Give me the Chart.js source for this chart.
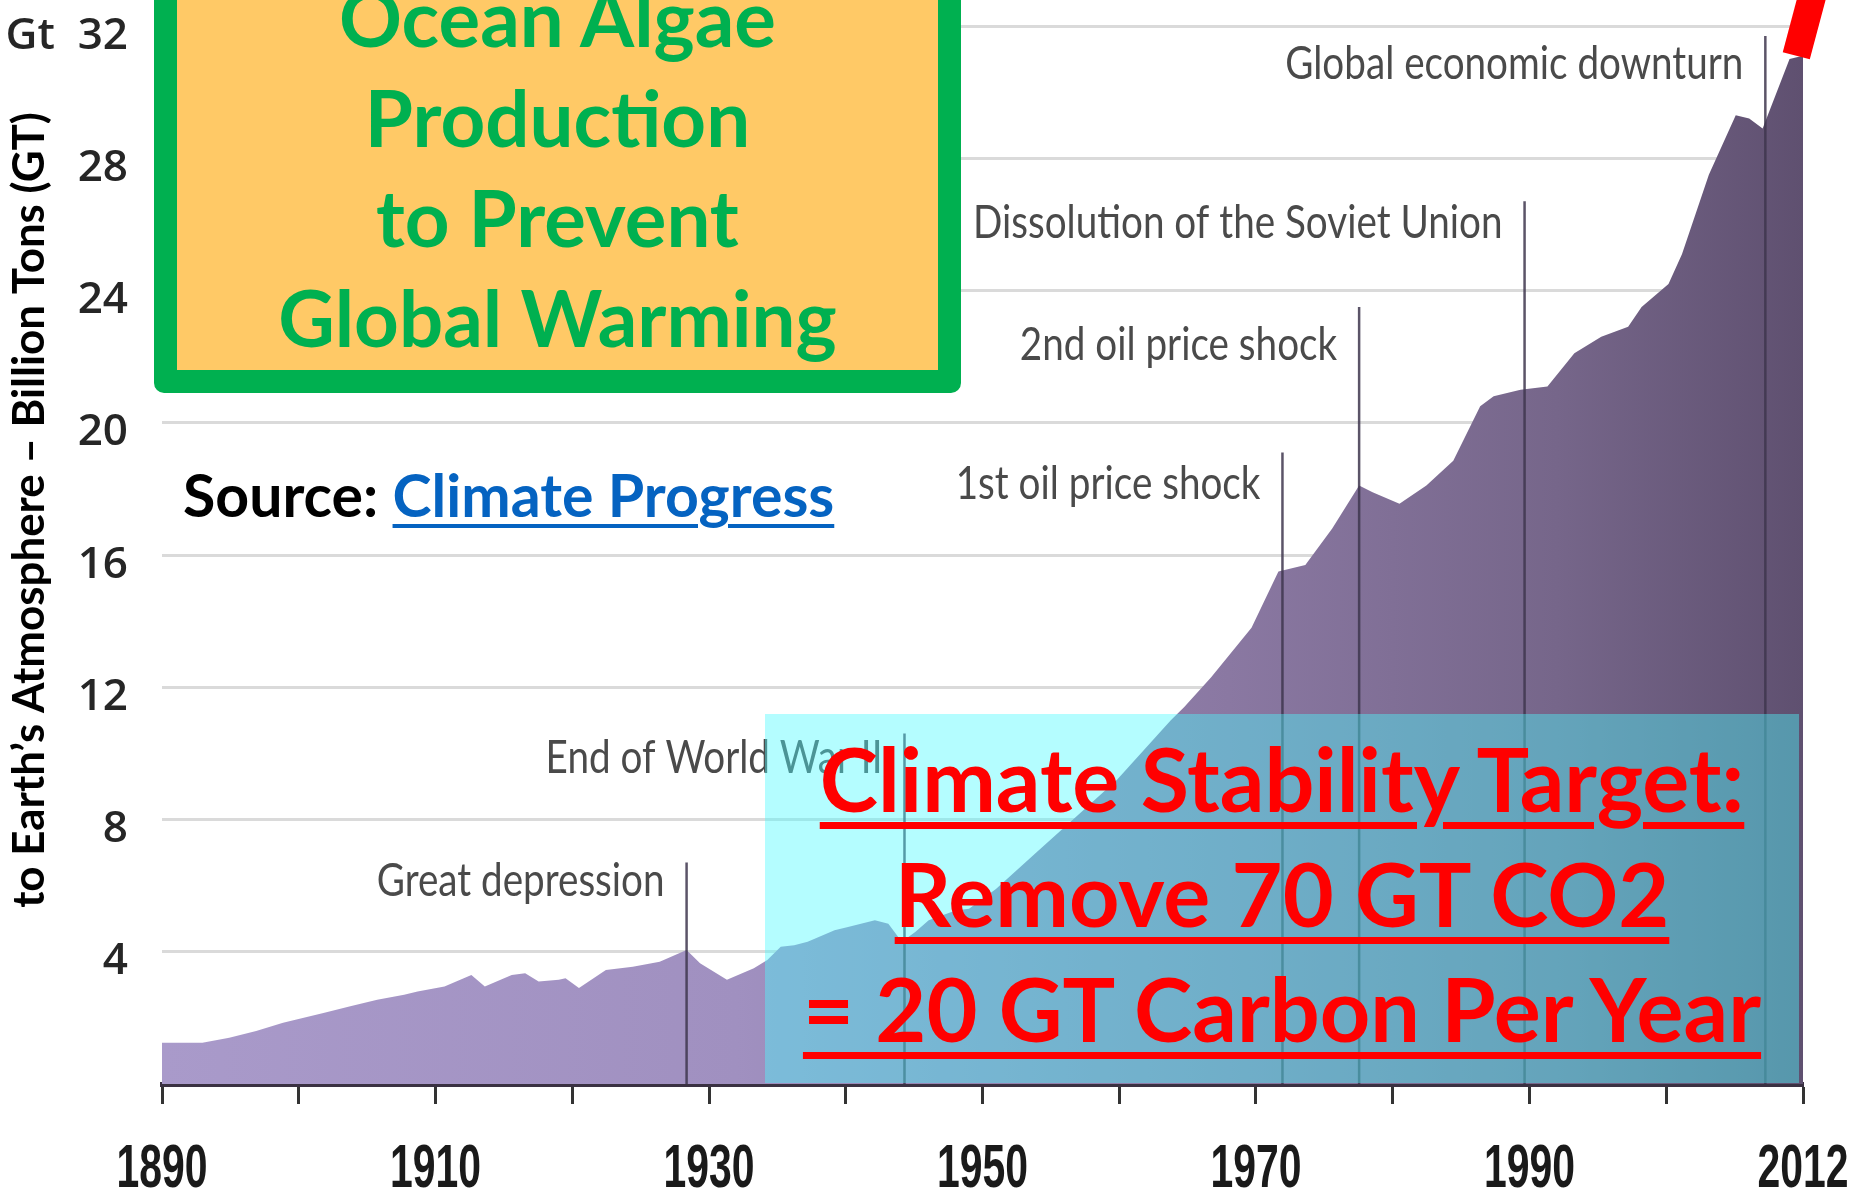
<!DOCTYPE html>
<html lang="en">
<head>
<meta charset="UTF-8">
<title>CO2 emissions to Earth's atmosphere</title>
<script src="https://cdn.jsdelivr.net/npm/chart.js"></script>
<style>
  html, body { margin: 0; padding: 0; background: #fff; }
  body { width: 1855px; height: 1190px; position: relative; overflow: hidden; }
  #grafico { position: absolute; left: 0; top: 0; }
  .caixa-laranja { position: absolute; left: 154px; top: -60px; width: 807px; height: 453px;
    box-sizing: border-box; background: #ffc966; border: 23px solid #00b050; border-radius: 10px; }
  .titulo-laranja { position: absolute; left: 154px; top: -33px; width: 807px; text-align: center;
    font: bold 78px/100px Lato, sans-serif; color: #00b050; }
  .fonte { position: absolute; left: 183px; top: 460px; white-space: nowrap;
    font: bold 59px/70px Lato, sans-serif; color: #000; }
  .fonte a { color: #0563c1; text-decoration: underline; text-decoration-thickness: 4px; text-underline-offset: 7px; }
  .caixa-azul { position: absolute; left: 765px; top: 714px; width: 1034px; height: 369px;
    background: rgba(76, 250, 255, 0.42); }
  .meta { position: absolute; left: 765px; top: 721px; width: 1034px; text-align: center;
    font: bold 88px/115px Lato, sans-serif; color: #ff0000; white-space: nowrap; }
  .meta span { text-decoration: underline; text-decoration-thickness: 7px; text-underline-offset: 10px; }
</style>
</head>
<body>
  <canvas id="grafico" width="1855" height="1190"></canvas>

  <div class="caixa-laranja"></div>
  <div class="titulo-laranja">Ocean Algae<br>Production<br>to Prevent<br>Global Warming</div>

  <div class="fonte">Source: <a href="#">Climate Progress</a></div>

  <div class="caixa-azul"></div>
  <div class="meta">
    <div><span>Climate Stability Target:</span></div>
    <div><span>Remove 70 GT CO2</span></div>
    <div><span>= 20 GT Carbon Per Year</span></div>
  </div>

<script>
// emissions (Gt per year)
const anos = [1890, 1893, 1895, 1897, 1899, 1900, 1902, 1904, 1906, 1908, 1909, 1911, 1913, 1914,
  1916, 1917, 1918, 1919.5, 1920, 1921, 1923, 1925, 1927, 1929, 1930, 1932, 1934, 1935, 1936, 1937,
  1938, 1940, 1941, 1943, 1944, 1945, 1946, 1947, 1949, 1950, 1952, 1955, 1958, 1961, 1963, 1965,
  1966, 1968, 1971, 1973, 1975, 1977, 1979, 1980, 1982, 1984, 1986, 1988, 1989, 1991, 1993, 1995,
  1997, 1999, 2000, 2002, 2003, 2004, 2005, 2007, 2008, 2009, 2011, 2012];
const emissoes = [1.25, 1.25, 1.4, 1.6, 1.85, 1.95, 2.15, 2.35, 2.55, 2.7, 2.8, 2.95, 3.3, 2.95,
  3.3, 3.35, 3.1, 3.15, 3.2, 2.9, 3.45, 3.55, 3.7, 4.05, 3.65, 3.15, 3.5, 3.75, 4.15, 4.2,
  4.3, 4.65, 4.75, 4.95, 4.85, 4.3, 4.6, 4.95, 5.25, 5.3, 5.9, 7.0, 8.1, 9.2, 10.1, 11.0,
  11.4, 12.3, 13.8, 15.5, 15.7, 16.8, 18.1, 17.9, 17.55, 18.1, 18.85, 20.5, 20.8, 21.0, 21.1, 22.1,
  22.6, 22.9, 23.5, 24.2, 25.1, 26.3, 27.5, 29.3, 29.2, 28.9, 31.0, 31.1];

const yTicks = [0, 4, 8, 12, 16, 20, 24, 28, 32];
const xTickLabels = ['1890', '', '1910', '', '1930', '', '1950', '', '1970', '', '1990', '', '2012'];

const eventos = ['Great depression', 'End of World War II', '1st oil price shock',
  '2nd oil price shock', 'Dissolution of the Soviet Union', 'Global economic downturn'];
const eventosAno = [1929, 1945.2, 1973.3, 1979, 1991.3, 2009.2];
const eventosTopo = [6.7, 10.6, 19.1, 23.5, 26.7, 31.7];
const eventosTexto = [5.7, 9.4, 17.7, 21.9, 25.6, 30.4];

// red trend stroke past the last year
const tendencia = [[2011.5, 31.1], [2013.2, 33.7]];

function texto(ctx, s, x, y, font, cor, align, sx) {
  ctx.save();
  ctx.translate(x, y);
  ctx.scale(sx, 1);
  ctx.font = font;
  ctx.fillStyle = cor;
  ctx.textAlign = align;
  ctx.textBaseline = 'alphabetic';
  ctx.fillText(s, 0, 0);
  ctx.restore();
}

const extras = {
  id: 'extras',
  afterDatasetsDraw(chart) {
    const ctx = chart.ctx;
    const x = chart.scales.x, y = chart.scales.y;
    ctx.save();
    for (let i = 0; i < eventos.length; i++) {
      const px = x.getPixelForValue(eventosAno[i]);
      ctx.strokeStyle = 'rgba(62,54,78,0.85)';
      ctx.lineWidth = 2.5;
      ctx.beginPath();
      ctx.moveTo(px, y.getPixelForValue(0));
      ctx.lineTo(px, y.getPixelForValue(eventosTopo[i]));
      ctx.stroke();
      texto(ctx, eventos[i], px - 22, y.getPixelForValue(eventosTexto[i]), '46px Lato', '#4a4a4a', 'right', 0.84);
    }
    ctx.restore();
  },
  afterDraw(chart) {
    const ctx = chart.ctx;
    const x = chart.scales.x, y = chart.scales.y;

    // x labels, narrow like the original
    x.ticks.forEach(function (t, i) {
      if (!xTickLabels[i]) return;
      texto(ctx, xTickLabels[i], x.getPixelForTick(i), 1187, 'bold 62px "Liberation Sans"', '#1a1a1a', 'center', 0.66);
    });

    // y axis title
    ctx.save();
    ctx.translate(30, 510);
    ctx.rotate(-Math.PI / 2);
    ctx.scale(1.02, 1);
    ctx.font = 'bold 43px Lato';
    ctx.fillStyle = '#000';
    ctx.textAlign = 'center';
    ctx.textBaseline = 'middle';
    ctx.fillText('to Earth\u2019s Atmosphere \u2013 Billion Tons (GT)', 0, 0);
    ctx.restore();

    // trend slash
    ctx.save();
    ctx.strokeStyle = '#ff0000';
    ctx.lineWidth = 28;
    ctx.lineCap = 'butt';
    ctx.beginPath();
    ctx.moveTo(x.getPixelForValue(tendencia[0][0]), y.getPixelForValue(tendencia[0][1]));
    ctx.lineTo(x.getPixelForValue(tendencia[1][0]), y.getPixelForValue(tendencia[1][1]));
    ctx.stroke();
    ctx.restore();
  }
};

function preenchimento(context) {
  const area = context.chart.chartArea;
  if (!area) return '#9a8ab8';
  const g = context.chart.ctx.createLinearGradient(area.left, 0, area.right, 0);
  g.addColorStop(0, '#a99aca');
  g.addColorStop(0.35, '#a090c0');
  g.addColorStop(0.65, '#8a78a2');
  g.addColorStop(0.85, '#76668a');
  g.addColorStop(1, '#5f5070');
  return g;
}

const pontos = anos.map(function (a, i) { return { x: a, y: emissoes[i] }; });

new Chart(document.getElementById('grafico'), {
  type: 'line',
  data: {
    datasets: [{
      data: pontos,
      fill: 'origin',
      backgroundColor: preenchimento,
      borderWidth: 0,
      pointRadius: 0,
      tension: 0
    }]
  },
  options: {
    responsive: false,
    devicePixelRatio: 1,
    animation: false,
    layout: { padding: { left: 0, top: 26, right: 52, bottom: 0 } },
    plugins: { legend: { display: false }, tooltip: { enabled: false } },
    scales: {
      x: {
        type: 'linear',
        min: 1890,
        max: 2012,
        afterBuildTicks: function (scale) {
          const n = xTickLabels.length - 1;
          scale.ticks = xTickLabels.map(function (l, i) { return { value: 1890 + i * (2012 - 1890) / n }; });
        },
        ticks: { display: false },
        grid: { drawOnChartArea: false, drawTicks: true, tickLength: 20, tickColor: '#333', tickWidth: 3 },
        border: { color: '#3a3142', width: 5 },
        afterFit: function (scale) {
          scale.height = 106;
          scale.paddingLeft = 0;
          scale.paddingRight = 0;
        }
      },
      y: {
        min: 0,
        max: 32,
        afterBuildTicks: function (scale) {
          scale.ticks = yTicks.map(function (v) { return { value: v }; });
        },
        ticks: {
          padding: 34,
          labelOffset: 10,
          color: '#262626',
          font: { family: 'Open Sans', size: 44, weight: '600' },
          callback: function (v) {
            if (v === 0) return '';
            if (v === 32) return 'Gt  32';
            return v;
          }
        },
        grid: {
          drawTicks: false,
          lineWidth: 3,
          color: function (c) { return c.tick && c.tick.value === 0 ? 'rgba(0,0,0,0)' : '#dadada'; }
        },
        border: { display: false },
        afterFit: function (scale) {
          scale.width = 162;
          scale.paddingTop = 0;
          scale.paddingBottom = 0;
        }
      }
    }
  },
  plugins: [extras]
});
</script>
</body>
</html>
